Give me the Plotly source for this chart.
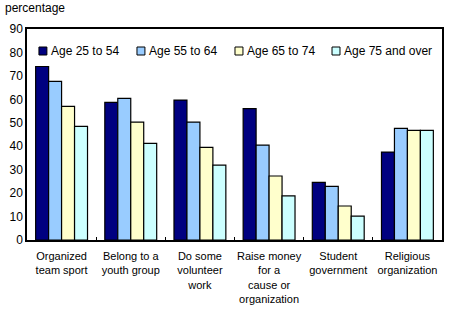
import plotly.graph_objects as go

categories = ["Organized<br>team sport", "Belong to a<br>youth group", "Do some<br>volunteer<br>work",
              "Raise money<br>for a<br>cause or<br>organization", "Student<br>government", "Religious<br>organization"]
series_names = ["Age 25 to 54", "Age 55 to 64", "Age 65 to 74", "Age 75 and over"]
age_25_54 = [74, 58.7, 59.7, 56, 24.6, 37.5]
age_55_64 = [67.7, 60.4, 50.3, 40.5, 22.9, 47.6]
age_65_74 = [57, 50.3, 39.5, 27.3, 14.5, 46.8]
age_75_over = [48.5, 41.2, 31.9, 18.8, 10.2, 46.8]
colors = ["#000080", "#99CCFF", "#FFFFCC", "#CCFFFF"]

W, H = 449, 311
ML, MR, MT, MB = 27, 5, 29, 71
PW, PH = W - ML - MR, H - MT - MB

def px_x(p):
    return (p - ML) / PW

def px_y(p):
    return (H - MB - p) / PH

fig = go.Figure()
for name, vals, c in zip(series_names, [age_25_54, age_55_64, age_65_74, age_75_over], colors):
    fig.add_trace(go.Bar(name=name, x=categories, y=vals,
                         marker=dict(color=c, line=dict(color="black", width=1.2))))

# custom legend (horizontal row inside the plot)
legend_left = [39, 137.5, 236, 333.5]
shapes, annots = [], []
for name, c, lx in zip(series_names, colors, legend_left):
    shapes.append(dict(type="rect", xref="paper", yref="paper",
                       x0=px_x(lx), x1=px_x(lx + 8), y0=px_y(55), y1=px_y(47),
                       fillcolor=c, line=dict(color="black", width=1)))
    annots.append(dict(text=name, x=px_x(lx + 10.5), y=px_y(51), xref="paper", yref="paper",
                       xanchor="left", yanchor="middle", showarrow=False,
                       font=dict(size=12)))

annots.append(dict(text="percentage", x=0, y=1, xref="paper", yref="paper",
                   xanchor="left", yanchor="bottom", showarrow=False,
                   font=dict(size=12), xshift=-24, yshift=12))

fig.update_layout(
    width=W, height=H,
    margin=dict(l=ML, r=MR, t=MT, b=MB),
    barmode="group", bargap=0.25, bargroupgap=0,
    plot_bgcolor="white", paper_bgcolor="white",
    font=dict(family="Liberation Sans, Arial", size=11, color="black"),
    showlegend=False,
    xaxis=dict(showline=True, linecolor="black", linewidth=1.5, mirror=True,
               ticks="inside", tickson="boundaries", ticklen=3, tickcolor="black",
               tickfont=dict(size=11), tickangle=0, ticklabelstandoff=5),
    yaxis=dict(range=[0, 90], dtick=10, showline=True, linecolor="black", linewidth=1.5, mirror=True,
               showgrid=False, ticks="", tickfont=dict(size=12), zeroline=False),
    shapes=shapes,
    annotations=annots,
)
fig.write_html("out.html")
